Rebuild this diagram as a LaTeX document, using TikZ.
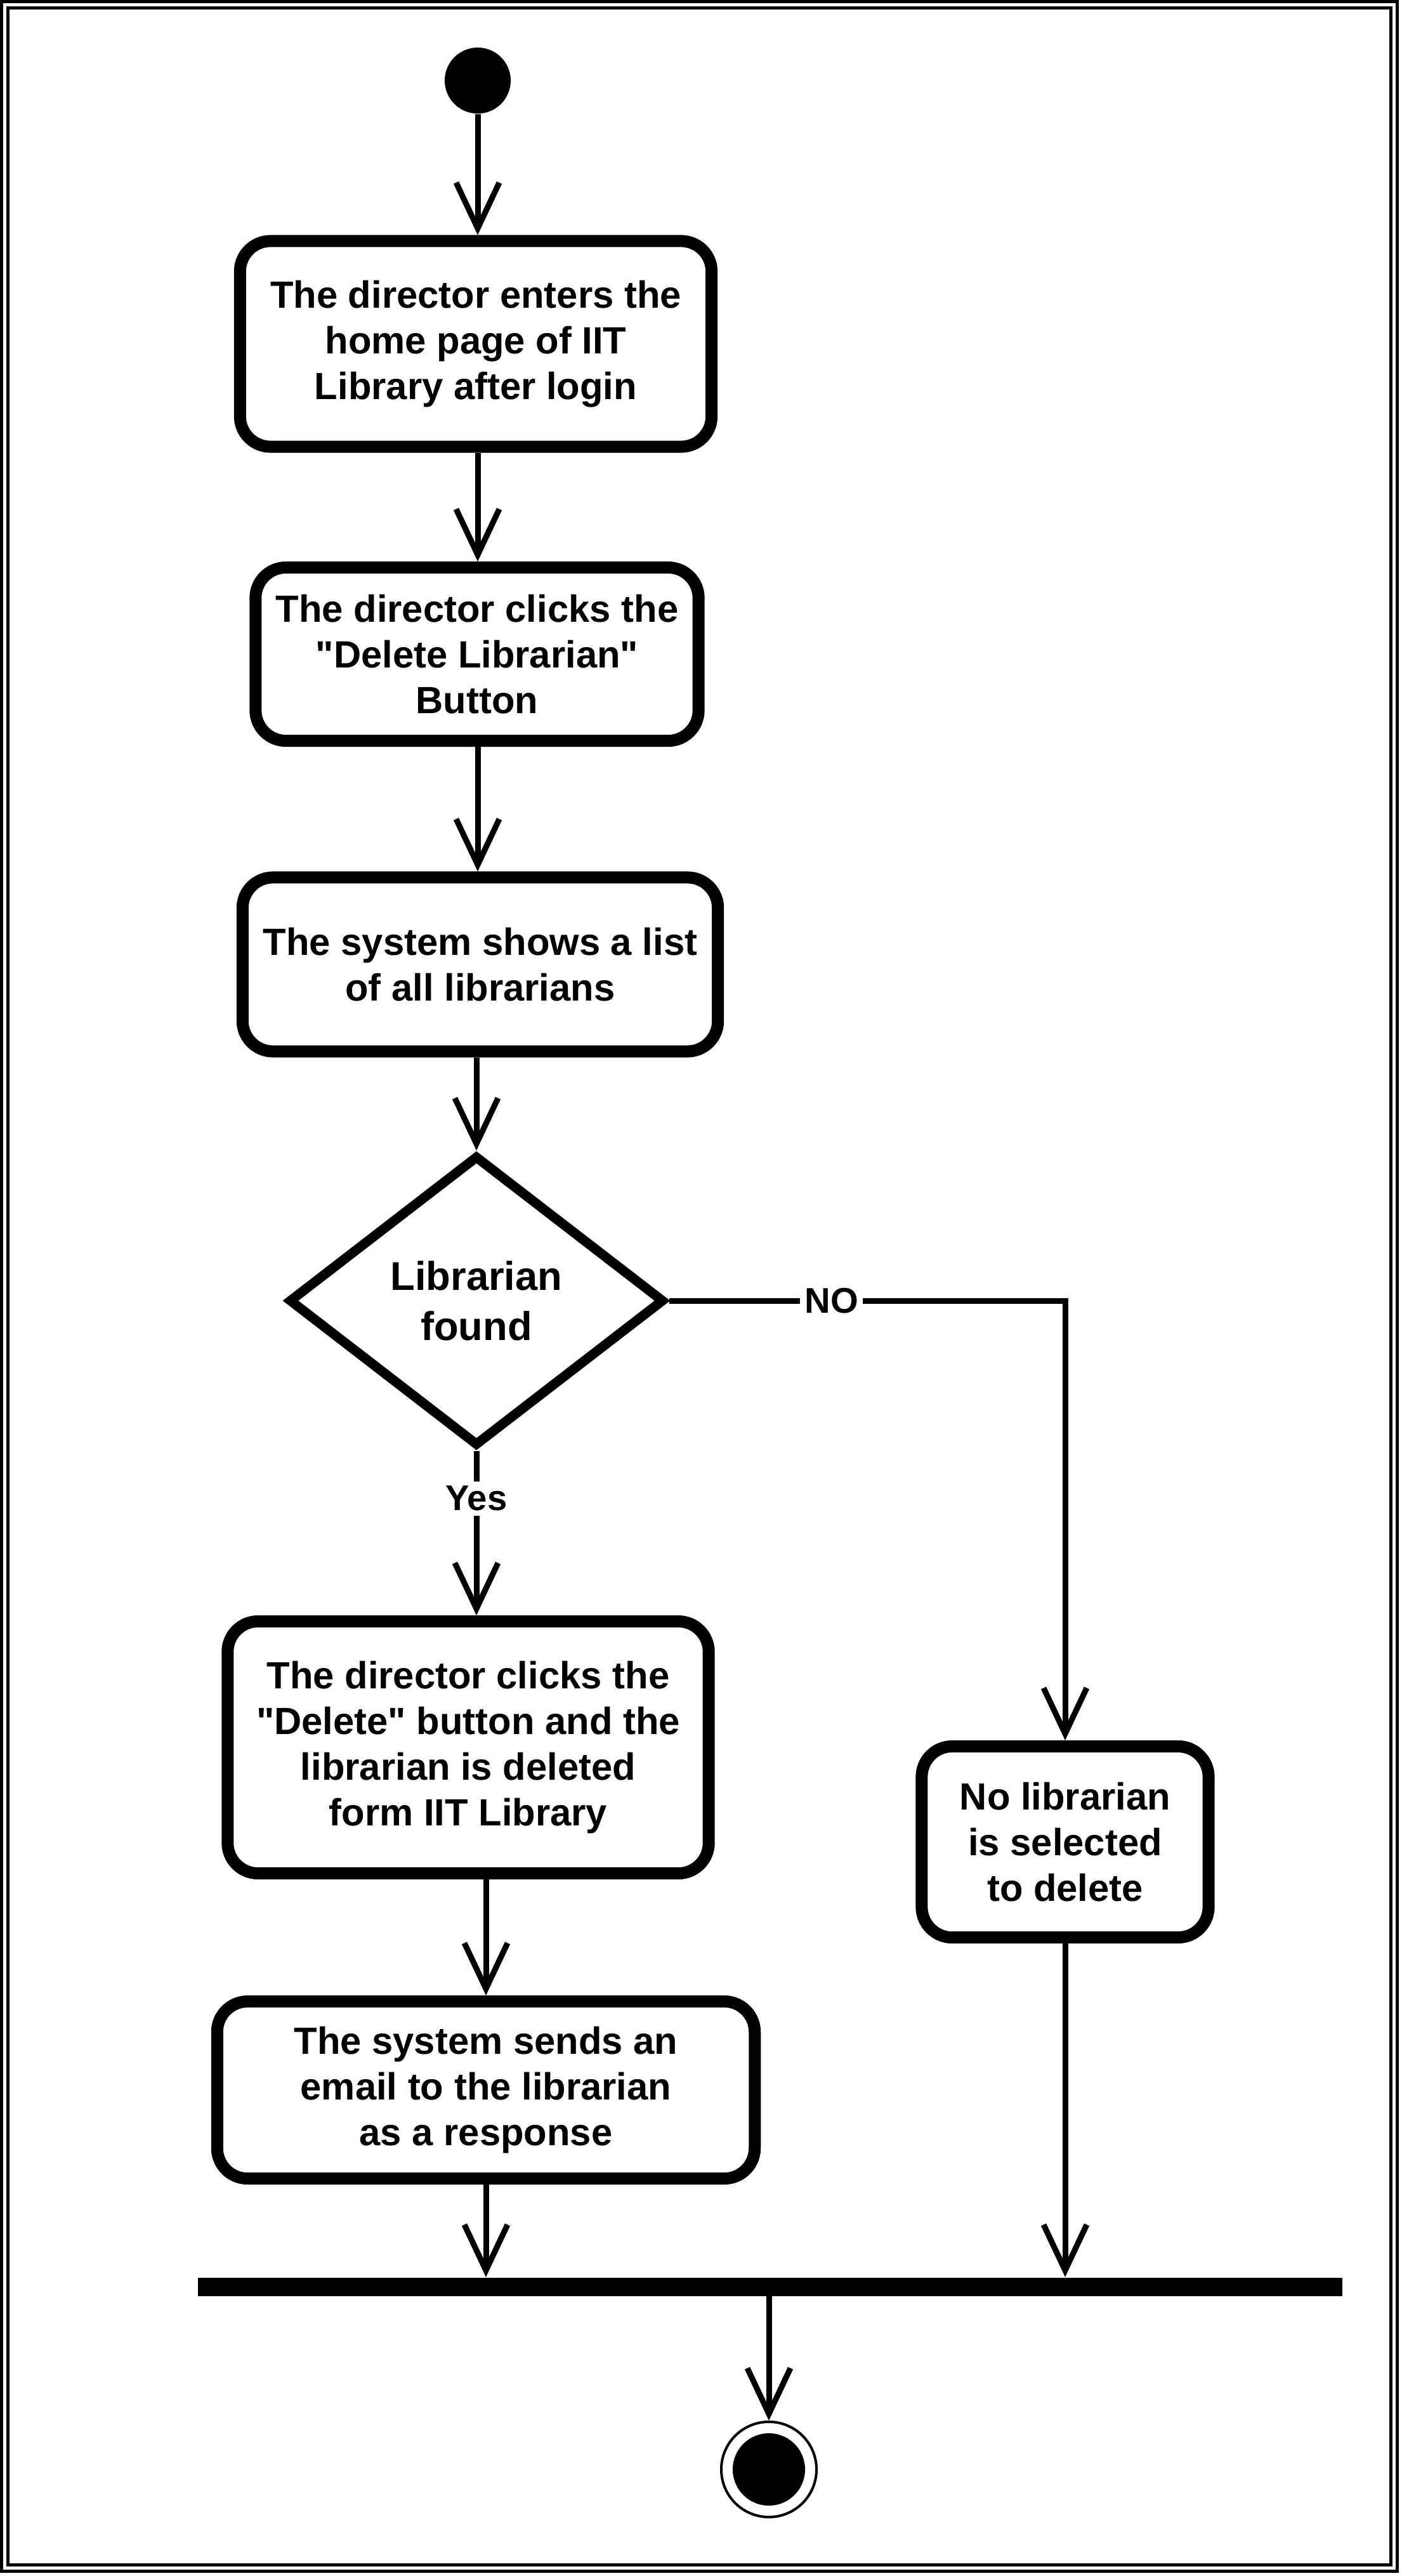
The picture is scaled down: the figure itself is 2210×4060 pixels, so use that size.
\documentclass[tikz,border=0pt]{standalone}
\usepackage{fontspec}
\newfontfamily\diagfont{Liberation Sans}
\usetikzlibrary{arrows.meta,shapes.geometric}
\tikzset{
  actbox/.style={draw, rectangle, rounded corners=0.48cm, line width=5.4pt,
    align=center, inner sep=0pt, font=\diagfont\bfseries\fontsize{17}{20.5}\selectfont},
  decbox/.style={draw, diamond, line width=4.3pt, align=center, inner sep=0pt,
    minimum width=5.92cm, minimum height=4.58cm,
    font=\diagfont\bfseries\fontsize{18}{22.5}\selectfont},
  flow/.style={line width=2.56pt, -{Straight Barb[length=0.72cm,width=0.68cm]}},
  lbl/.style={fill=white, inner sep=2pt, font=\diagfont\bfseries\fontsize{16}{19}\selectfont}
}
\newcommand{\actnode}[6]{
  \node [actbox, minimum width=#4cm, minimum height=#5cm] (#1) at (#2,#3) {#6};
}

\begin{document}
\begin{tikzpicture}[x=0.01cm, y=-0.01cm]
\useasboundingbox (0,0) rectangle (2210,4060);
% frame
\draw [line width=1.42pt] (2.5,2.5) rectangle (2202.5,4052.5);
\draw [line width=1.42pt] (12.5,12.5) rectangle (2192.5,4042.5);
\node [circle, fill, inner sep=0pt, minimum size=1.04cm] (start) at (753,127) {};
\actnode{enter}{750}{542}{7.43}{3.24}{The director enters the\\home page of IIT\\Library after login}
\actnode{click}{752}{1031}{6.98}{2.73}{The director clicks the\\"Delete Librarian"\\Button}
\actnode{list}{757}{1520}{7.49}{2.74}{The system shows a list\\of all librarians}
\node [decbox] (found) at (751,2050) {Librarian\\found};
\actnode{delete}{738}{2754}{7.58}{3.97}{The director clicks the\\"Delete" button and the\\librarian is deleted\\form IIT Library}
\actnode{none}{1679}{2903}{4.52}{3.01}{No librarian\\is selected\\to delete}
\actnode{email}{766}{3294}{8.47}{2.79}{The system sends an\\email to the librarian\\as a response}
\node [fill, inner sep=0pt, minimum width=18.02cm, minimum height=0.29cm] (join) at (1214,3604) {};
\node [circle, draw, line width=1.14pt, inner sep=0pt, minimum size=1.5cm] (stop) at (1212,3892) {};
\fill (stop.center) circle (0.57cm);
% flows
\draw [flow] (start) -- (start |- enter.north);
\draw [flow] (enter.south -| start) -- (click.north -| start);
\draw [flow] (click.south -| start) -- (list.north -| start);
\draw [flow] (list.south -| found.north) -- (found.north);
\draw [flow] (found.south) -- node [lbl, pos=0.29] {Yes} (found.south |- delete.north);
\draw [flow] (found.east) -- node [lbl, pos=0.41] {NO} (found.east -| none.north) -- (none.north);
\draw [flow] (delete.south -| email.north) -- (email.north);
\draw [flow] (email.south) -- (email.south |- join.north);
\draw [flow] (none.south) -- (none.south |- join.north);
\draw [flow] (join.south -| stop.north) -- (stop.north);
\end{tikzpicture}
\end{document}
